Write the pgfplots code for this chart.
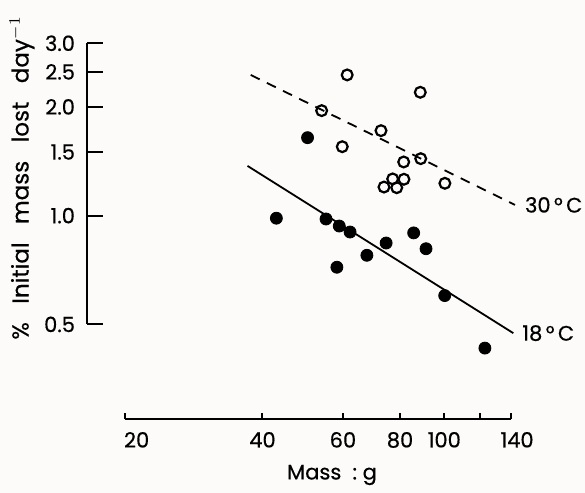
\documentclass[border=0pt]{standalone}
\usepackage{pgfplots}
\pgfplotsset{compat=1.18}
\usepackage{fontspec}
\setmainfont{Poppins}
\definecolor{paper}{RGB}{252,251,249}
\begin{document}
\begin{tikzpicture}[font=\fontsize{10.5}{12}\selectfont\addfontfeature{FakeBold=0.5}]
\fill[paper] (-43.5pt,-37pt) rectangle ++(292.5pt,246.5pt);
\begin{axis}[
    xmode=log, ymode=log,
    xmin=16.52, xmax=150.2,
    ymin=0.2737, ymax=3.063,
    width=219pt, height=189.5pt,
    scale only axis,
    hide axis,
    clip=false,
]
% fitted lines
\addplot[line width=0.9pt] coordinates {(37.1,1.373) (141.6,0.473)};
\addplot[line width=0.9pt, dash pattern=on 5pt off 4pt] coordinates {(37.7,2.452) (142.8,1.071)};

% 18 C
\addplot[only marks, mark=*, mark size=3pt] coordinates {
    (42.9,0.984) (50.2,1.644) (55.1,0.979) (58.9,0.936) (62.2,0.901) (58.2,0.720)
    (67.7,0.777) (74.6,0.840) (85.7,0.896) (91.2,0.810) (100.2,0.601) (122.7,0.430)
};
% 30 C
\addplot[only marks, mark=o, mark size=2.7pt, mark options={line width=1.1pt, fill=paper}] coordinates {
    (61.3,2.452) (88.6,2.195) (53.9,1.953) (72.7,1.719) (59.8,1.552) (81.5,1.408)
    (88.8,1.438) (100.3,1.229) (73.8,1.200) (77.1,1.264) (78.7,1.195) (81.6,1.261)
};

\node[anchor=west] at ([xshift=1.5pt]axis cs:142.8,1.071) {30\,°\,C};
\node[anchor=west] at ([xshift=1pt]axis cs:141.6,0.473) {18\,°\,C};

% detached y axis
\draw[line width=1pt] (axis cs:16.52,3.0) -- (axis cs:16.52,0.5);
\draw[line width=1pt]
    (axis cs:16.52,0.5) -- ([xshift=8pt]axis cs:16.52,0.5)
    (axis cs:16.52,1.0) -- ([xshift=8pt]axis cs:16.52,1.0)
    (axis cs:16.52,1.5) -- ([xshift=8pt]axis cs:16.52,1.5)
    (axis cs:16.52,2.0) -- ([xshift=8pt]axis cs:16.52,2.0)
    (axis cs:16.52,2.5) -- ([xshift=8pt]axis cs:16.52,2.5)
    (axis cs:16.52,3.0) -- ([xshift=8pt]axis cs:16.52,3.0);
\node[anchor=east] at ([xshift=-2.5pt]axis cs:16.52,0.5) {0.5};
\node[anchor=east] at ([xshift=-2.5pt]axis cs:16.52,1.0) {1.0};
\node[anchor=east] at ([xshift=-2.5pt]axis cs:16.52,1.5) {1.5};
\node[anchor=east] at ([xshift=-2.5pt]axis cs:16.52,2.0) {2.0};
\node[anchor=east] at ([xshift=-2.5pt]axis cs:16.52,2.5) {2.5};
\node[anchor=east] at ([xshift=-2.5pt]axis cs:16.52,3.0) {3.0};

% detached x axis
\draw[line width=1pt] (axis cs:20,0.2737) -- (axis cs:140,0.2737);
\draw[line width=1pt]
    (axis cs:20,0.2737) -- ([yshift=3pt]axis cs:20,0.2737)
    (axis cs:40,0.2737) -- ([yshift=3pt]axis cs:40,0.2737)
    (axis cs:60,0.2737) -- ([yshift=3pt]axis cs:60,0.2737)
    (axis cs:80,0.2737) -- ([yshift=3pt]axis cs:80,0.2737)
    (axis cs:100,0.2737) -- ([yshift=3pt]axis cs:100,0.2737)
    (axis cs:120,0.2737) -- ([yshift=3pt]axis cs:120,0.2737)
    (axis cs:140,0.2737) -- ([yshift=3pt]axis cs:140,0.2737);
\node[anchor=north west] at ([xshift=-4pt,yshift=-3pt]axis cs:20,0.2737) {20};
\node[anchor=north] at ([yshift=-3pt]axis cs:40,0.2737) {40};
\node[anchor=north] at ([yshift=-3pt]axis cs:60,0.2737) {60};
\node[anchor=north] at ([yshift=-3pt]axis cs:80,0.2737) {80};
\node[anchor=north] at ([yshift=-3pt]axis cs:100,0.2737) {100};
\node[anchor=north] at ([xshift=3pt,yshift=-3pt]axis cs:140,0.2737) {140};
\end{axis}
\node at (122.5pt,-28pt) {Mass\ \ :\ g};
\node[rotate=90] at (-32.5pt,120.5pt) {\fontsize{11.5}{13}\selectfont\%\ \ \ Initial\ \ \ mass\ \ \ lost\ \ \ day$^{-1}$};
\pgfresetboundingbox
\useasboundingbox (-43.5pt,-37pt) rectangle ++(292.5pt,246.5pt);
\end{tikzpicture}
\end{document}
